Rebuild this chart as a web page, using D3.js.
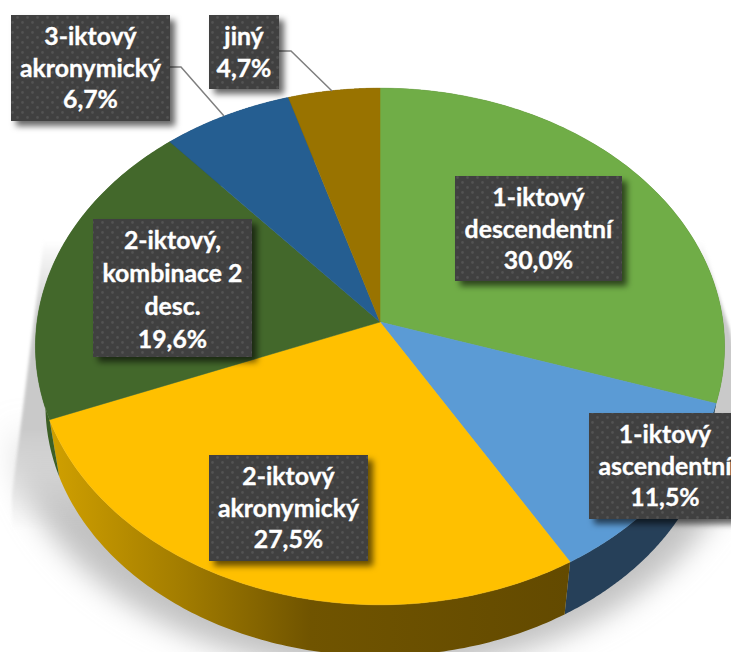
<!DOCTYPE html>
<html lang="en">

<head>
  <meta charset="UTF-8">
  <title>Pie</title>
  <script src="https://cdn.jsdelivr.net/npm/d3@7"></script>
  <style>
    body {
      margin: 0;
      background: #fff;
      overflow: hidden;
    }

    svg {
      display: block;
    }

    text {
      font-family: Lato, "Open Sans", sans-serif;
      font-weight: 700;
      font-size: 24.8px;
      fill: #fff;
      stroke: #fff;
      stroke-width: 0.35px;
      text-anchor: middle;
    }
  </style>
</head>

<body>
  <div id="chart"></div>
  <script>
    const labels = [
      ['1-iktový', 'descendentní'],
      ['1-iktový', 'ascendentní'],
      ['2-iktový', 'akronymický'],
      ['2-iktový,', 'kombinace 2', 'desc.'],
      ['3-iktový', 'akronymický'],
      ['jiný']
    ]
    const values = [30.0, 11.5, 27.5, 19.6, 6.7, 4.7]

    const topColors = ['#70ad47', '#5b9bd5', '#ffc000', '#43682b', '#255e91', '#997300']
    const sideColors = ['#3f6228', '#264059', 'url(#yellowSide)', '#3c5f24', '#16385a', '#5c4500']

    // label boxes: x, y, width, height
    const boxes = [
      [455, 176, 167, 105],
      [589, 413, 160, 106],
      [209, 455, 159, 106],
      [93, 219, 159, 138],
      [11, 15, 159, 106],
      [209, 15, 70, 74]
    ]
    const leaders = [
      null, null, null, null,
      [[170, 67], [181, 67], [224, 116]],
      [[279, 51], [291, 51], [332, 91]]
    ]

    const width = 731
    const height = 652

    const svg = d3.select('#chart')
      .append('svg')
      .attr('width', width)
      .attr('height', height)

    const defs = svg.append('defs')

    const yellowGrad = defs.append('linearGradient')
      .attr('id', 'yellowSide')
      .attr('gradientUnits', 'userSpaceOnUse')
      .attr('x1', 50).attr('x2', 570).attr('y1', 0).attr('y2', 0)
    yellowGrad.append('stop').attr('offset', 0).attr('stop-color', '#d0a000')
    yellowGrad.append('stop').attr('offset', 0.25).attr('stop-color', '#a37d00')
    yellowGrad.append('stop').attr('offset', 0.5).attr('stop-color', '#705400')
    yellowGrad.append('stop').attr('offset', 1).attr('stop-color', '#634a00')

    const addBlur = (id, amount) => defs.append('filter').attr('id', id)
      .attr('filterUnits', 'userSpaceOnUse')
      .attr('x', -100).attr('y', -100).attr('width', width + 200).attr('height', height + 200)
      .append('feGaussianBlur').attr('stdDeviation', amount)
    addBlur('blurWide', 14)
    addBlur('blurTight', 1.5)

    const shadow = defs.append('filter').attr('id', 'boxShadow')
      .attr('x', '-20%').attr('y', '-20%').attr('width', '140%').attr('height', '140%')
    shadow.append('feDropShadow')
      .attr('dx', 5).attr('dy', 5).attr('stdDeviation', 3)
      .attr('flood-color', '#000').attr('flood-opacity', 0.6)

    const dots = defs.append('pattern').attr('id', 'dots')
      .attr('patternUnits', 'userSpaceOnUse')
      .attr('width', 10).attr('height', 10)
    dots.append('rect').attr('width', 10).attr('height', 10).attr('fill', '#404040')
    dots.append('circle').attr('cx', 2.5).attr('cy', 2.5).attr('r', 1.4).attr('fill', '#525252')
    dots.append('circle').attr('cx', 7.5).attr('cy', 7.5).attr('r', 1.4).attr('fill', '#525252')

    // perspective of the tilted disc: apex sits above the ellipse centre
    const tilt = 0.0947
    const project = (angle, r, disc) => {
      const X = Math.sin(angle) * r
      const Y = -Math.cos(angle) * r
      const w = 1 - tilt * Y
      return [disc.cx + disc.sx * X / w, disc.cy + disc.sy * Y / w]
    }
    const topDisc = { cx: 380, cy: 322, sx: 343, sy: 256 }
    const lowDisc = { cx: 380, cy: 382, sx: 333, sy: 248 }

    const pie = d3.pie().sort(null).value(d => d)
    const arcs = pie(values)
    const line = d3.line()

    const arcPoints = (a, disc) =>
      d3.range(0, 121).map(i => project(a.startAngle + (a.endAngle - a.startAngle) * i / 120, 1, disc))

    // ground shadow: hard edge up by the rim, soft towards the viewer
    const addFade = (id, y1, y2, color, stops) => {
      const g = defs.append('linearGradient')
        .attr('id', id)
        .attr('gradientUnits', 'userSpaceOnUse')
        .attr('x1', 0).attr('x2', 0).attr('y1', y1).attr('y2', y2)
      stops.forEach(s => g.append('stop')
        .attr('offset', s[0]).attr('stop-color', color).attr('stop-opacity', s[1]))
    }
    addFade('softFade', 420, 510, '#c2c2c2', [[0, 0], [1, 1]])
    addFade('hardFade', 240, 530, '#c9c9c9', [[0, 0], [0.28, 1], [0.65, 1], [1, 0]])

    svg.append('ellipse')
      .attr('cx', 376).attr('cy', 402).attr('rx', 372).attr('ry', 270)
      .attr('fill', 'url(#softFade)')
      .attr('filter', 'url(#blurWide)')

    svg.append('path')
      .attr('d', line([[44, 240], [12, 495], [12, 540], [745, 540], [745, 400], [730, 330], [702, 240]]) + 'Z')
      .attr('fill', 'url(#hardFade)')
      .attr('filter', 'url(#blurTight)')

    // sides, only the front half of the rim shows
    svg.append('g')
      .selectAll('path')
      .data(arcs)
      .join('path')
      .attr('d', a => line(arcPoints(a, topDisc).concat(arcPoints(a, lowDisc).reverse())) + 'Z')
      .attr('fill', (a, i) => sideColors[i])

    // top face
    svg.append('g')
      .selectAll('path')
      .data(arcs)
      .join('path')
      .attr('d', a => line([[topDisc.cx, topDisc.cy]].concat(arcPoints(a, topDisc))) + 'Z')
      .attr('fill', (a, i) => topColors[i])
      .attr('stroke', (a, i) => topColors[i])
      .attr('stroke-width', 0.5)

    // leader lines
    svg.append('g')
      .selectAll('path')
      .data(leaders.filter(d => d))
      .join('path')
      .attr('d', d => line(d))
      .attr('fill', 'none')
      .attr('stroke', '#7f7f7f')
      .attr('stroke-width', 1.5)

    // labels
    const label = svg.append('g')
      .selectAll('g')
      .data(values)
      .join('g')

    label.append('rect')
      .attr('x', (d, i) => boxes[i][0])
      .attr('y', (d, i) => boxes[i][1])
      .attr('width', (d, i) => boxes[i][2])
      .attr('height', (d, i) => boxes[i][3])
      .attr('fill', 'url(#dots)')
      .attr('filter', 'url(#boxShadow)')

    label.each(function (d, i) {
      const lines = labels[i].concat(d3.format('.1f')(d).replace('.', ',') + '%')
      const cx = i === 1 ? 665 : boxes[i][0] + boxes[i][2] / 2
      const pitch = lines.length > 3 ? 33 : 31.5
      d3.select(this).selectAll('text')
        .data(lines)
        .join('text')
        .attr('x', cx)
        .attr('y', (t, k) => boxes[i][1] + 30 + k * pitch)
        .text(t => t)
    })
  </script>
</body>

</html>
